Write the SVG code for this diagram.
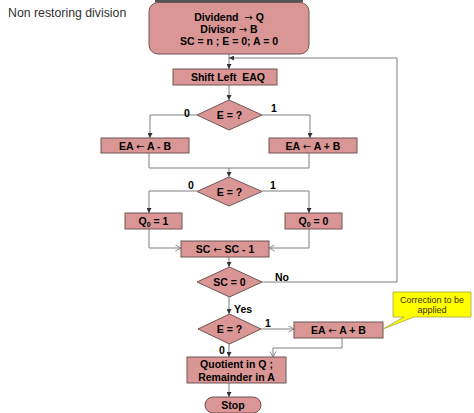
<svg xmlns="http://www.w3.org/2000/svg" width="474" height="413" viewBox="0 0 474 413">
<style>
.box{fill:#d99694;stroke:#6e5555;stroke-width:1}
.t{font-family:"Liberation Sans",Arial,sans-serif;font-weight:bold;font-size:10.5px;fill:#000;text-anchor:middle;white-space:pre}
.l{font-family:"Liberation Sans",Arial,sans-serif;font-weight:bold;font-size:10.5px;fill:#000}
.ar{font-family:"DejaVu Sans",sans-serif;font-weight:normal;font-size:10px}
.c{fill:none;stroke:#7f7f7f;stroke-width:1}
.cf{fill:none;stroke:#7f7f7f;stroke-width:1;marker-end:url(#fa)}
.co{fill:none;stroke:#7f7f7f;stroke-width:1;marker-end:url(#oa)}
</style>
<defs>
<marker id="fa" viewBox="0 0 6 6" refX="6" refY="3" markerWidth="5" markerHeight="5" orient="auto" markerUnits="userSpaceOnUse">
<path d="M0,0 L6,3 L0,6 Z" fill="#333"/>
</marker>
<marker id="oa" viewBox="0 0 8 8" refX="7.5" refY="4" markerWidth="7" markerHeight="7" orient="auto" markerUnits="userSpaceOnUse">
<path d="M1,0.5 L7.5,4 L1,7.5" fill="none" stroke="#7f7f7f" stroke-width="1"/>
</marker>
</defs>
<rect width="474" height="413" fill="#fff"/>
<rect x="155" y="0" width="148" height="2.5" fill="#555"/>
<text x="8" y="16.5" font-family="'Liberation Sans',Arial,sans-serif" font-size="12.3" fill="#333">Non restoring division</text>

<g id="connectors">
<path class="cf" d="M229,54 V69"/>
<path class="cf" d="M229,85 V100"/>
<path class="cf" d="M197,115 H150 V138"/>
<path class="cf" d="M262,115 H310 V138"/>
<path class="c" d="M149,153 V168 H309 V153"/>
<path class="cf" d="M229,168 V177"/>
<path class="cf" d="M197,191 H149 V213"/>
<path class="cf" d="M262,191 H309 V213"/>
<path class="co" d="M149,229 V248 H181"/>
<path class="co" d="M309,229 V248 H269"/>
<path class="cf" d="M229,257 V267"/>
<path class="cf" d="M262,282 H397 V58 H229"/>
<path class="cf" d="M229,297 V314"/>
<path class="co" d="M261,329 H294"/>
<path class="cf" d="M229,344 V357"/>
<path class="co" d="M342,338 V348 H273 V357"/>
<path class="cf" d="M229,383 V397"/>
</g>

<g id="start">
<rect class="box" x="149" y="2.5" width="160" height="51.5" rx="9"/>
<text class="t" x="229" y="20.5">Dividend  <tspan class="ar">→</tspan> Q</text>
<text class="t" x="229" y="32.5">Divisor <tspan class="ar">→</tspan> B</text>
<text class="t" x="229" y="44.5">SC = n ; E = 0; A = 0</text>
</g>
<g id="shift">
<rect class="box" x="173" y="69" width="104" height="16"/>
<text class="t" x="228" y="81">Shift Left  EAQ</text>
</g>
<g id="dec1">
<path class="box" d="M229,100 L262,115 L229,130 L197,115 Z"/>
<text class="t" x="229.5" y="119">E = ?</text>
<text class="l" x="184" y="117">0</text>
<text class="l" x="271" y="112">1</text>
</g>
<g id="sub">
<rect class="box" x="101" y="138" width="88" height="15"/>
<text class="t" x="145" y="149.5">EA <tspan class="ar">←</tspan> A - B</text>
</g>
<g id="add">
<rect class="box" x="269" y="138" width="88" height="15"/>
<text class="t" x="313" y="149.5">EA <tspan class="ar">←</tspan> A + B</text>
</g>
<g id="dec2">
<path class="box" d="M229,177 L262,191.5 L229,206 L197,191.5 Z"/>
<text class="t" x="229.5" y="195.5">E = ?</text>
<text class="l" x="188" y="189">0</text>
<text class="l" x="270" y="189">1</text>
</g>
<g id="q1">
<rect class="box" x="125" y="213" width="57" height="16"/>
<text class="t" x="153.5" y="225">Q<tspan font-size="7" dy="2">0</tspan><tspan dy="-2"> = 1</tspan></text>
</g>
<g id="q0">
<rect class="box" x="285" y="213" width="57" height="16"/>
<text class="t" x="313.5" y="225">Q<tspan font-size="7" dy="2">0</tspan><tspan dy="-2"> = 0</tspan></text>
</g>
<g id="dec-sc">
<rect class="box" x="181" y="241" width="88" height="16"/>
<text class="t" x="225" y="253">SC <tspan class="ar">←</tspan> SC - 1</text>
</g>
<g id="sc0">
<path class="box" d="M229.5,267 L262,282 L229.5,297 L197,282 Z"/>
<text class="t" x="229.5" y="286">SC = 0</text>
<text class="l" x="275" y="281">No</text>
<text class="l" x="234" y="313">Yes</text>
</g>
<g id="dec3">
<path class="box" d="M229.5,314 L261,329 L229.5,344 L198,329 Z"/>
<text class="t" x="229.5" y="333">E = ?</text>
<text class="l" x="265" y="327">1</text>
<text class="l" x="219" y="354">0</text>
</g>
<g id="correct">
<rect class="box" x="294" y="322" width="89" height="16"/>
<text class="t" x="338.5" y="334">EA <tspan class="ar">←</tspan> A + B</text>
</g>
<g id="callout">
<path d="M393,292 H471 V317 H414 L383,329 L404,317 H393 Z" fill="#ffff00" stroke="#a6a640" stroke-width="0.8"/>
<text x="432" y="303" font-family="'Liberation Sans',Arial,sans-serif" font-size="9" fill="#3f3100" text-anchor="middle">Correction to be</text>
<text x="432" y="313" font-family="'Liberation Sans',Arial,sans-serif" font-size="9" fill="#3f3100" text-anchor="middle">applied</text>
</g>
<g id="result">
<rect class="box" x="187" y="357" width="99" height="26"/>
<text class="t" x="236.5" y="368">Quotient in Q ;</text>
<text class="t" x="236.5" y="380.5">Remainder in A</text>
</g>
<g id="stop">
<rect class="box" x="205" y="397" width="56" height="16" rx="8"/>
<text class="t" x="233" y="409">Stop</text>
</g>
</svg>
